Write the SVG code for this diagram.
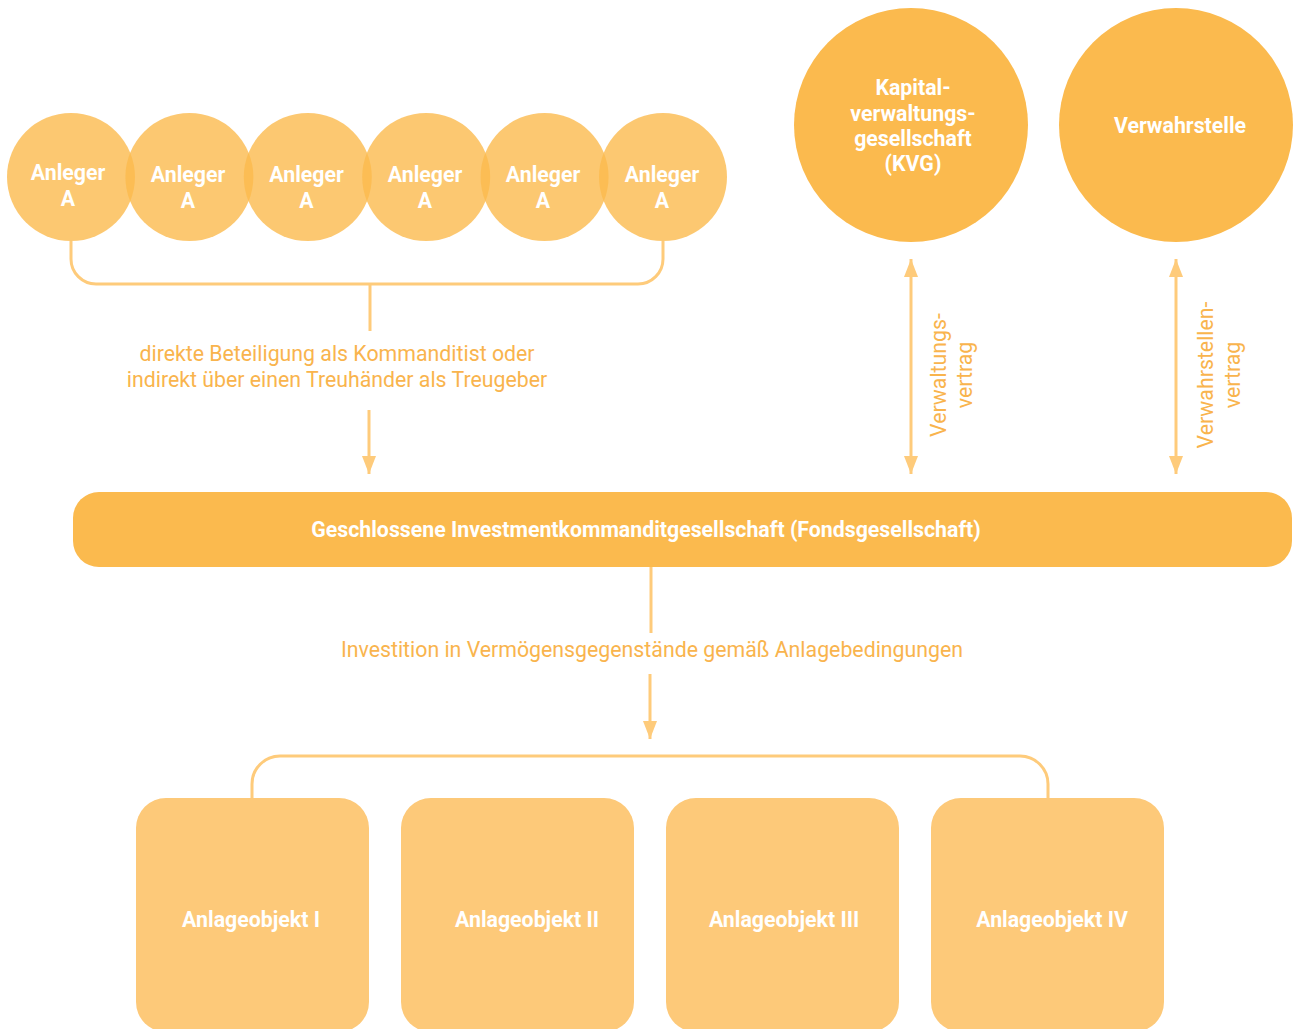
<svg xmlns="http://www.w3.org/2000/svg" width="1293" height="1029" viewBox="0 0 1293 1029">
<style>
.inv{fill:#FBBA4E;fill-opacity:0.8}
.big{fill:#FBBA4E}
.box{fill:#FDC979}
.wt{font-family:Roboto,"Liberation Sans",sans-serif;font-weight:bold;font-size:21.3px;fill:#FFFFFF;text-anchor:middle}
.lbl{font-family:Roboto,"Liberation Sans",sans-serif;font-size:21.3px;fill:#F9B44D;text-anchor:middle}
.ln{fill:none;stroke:#FECB7B;stroke-width:3}
</style>
<defs>
<marker id="ah" viewBox="0 0 18 14" refX="18" refY="7" markerWidth="18" markerHeight="14" markerUnits="userSpaceOnUse" orient="auto-start-reverse">
<path d="M0,0 L18,7 L0,14 z" fill="#FECB7B"/>
</marker>
</defs>
<rect width="1293" height="1029" fill="#FFFFFF"/>
<g id="connectors">
<path class="ln" d="M71,241 V259 A25,25 0 0 0 96,284 H638 A25,25 0 0 0 663,259 V241"/>
<path class="ln" d="M370,284 V331"/>
<path class="ln" d="M369,410 V474" marker-end="url(#ah)"/>
<path class="ln" d="M911,259 V474" marker-start="url(#ah)" marker-end="url(#ah)"/>
<path class="ln" d="M1176,259 V474" marker-start="url(#ah)" marker-end="url(#ah)"/>
<path class="ln" d="M651,567 V633"/>
<path class="ln" d="M650,674 V739" marker-end="url(#ah)"/>
<path class="ln" d="M252,798 V784 A28,28 0 0 1 280,756 H1020 A28,28 0 0 1 1048,784 V798"/>
</g>
<g id="labels">
<text class="lbl" x="337" y="361">direkte Beteiligung als Kommanditist oder</text>
<text class="lbl" x="337" y="387">indirekt über einen Treuhänder als Treugeber</text>
<text class="lbl" x="652" y="657">Investition in Vermögensgegenstände gemäß Anlagebedingungen</text>
<text class="lbl" transform="translate(946,375) rotate(-90)">Verwaltungs-</text>
<text class="lbl" transform="translate(972,375) rotate(-90)">vertrag</text>
<text class="lbl" transform="translate(1213,375) rotate(-90)">Verwahrstellen-</text>
<text class="lbl" transform="translate(1240,375) rotate(-90)">vertrag</text>
</g>
<g id="anleger1"><circle class="inv" cx="71" cy="177" r="64"/><text class="wt" x="68" y="180">Anleger</text><text class="wt" x="68" y="206">A</text></g>
<g id="anleger2"><circle class="inv" cx="189.4" cy="177" r="64"/><text class="wt" x="188" y="182">Anleger</text><text class="wt" x="188" y="208">A</text></g>
<g id="anleger3"><circle class="inv" cx="307.8" cy="177" r="64"/><text class="wt" x="306.5" y="182">Anleger</text><text class="wt" x="306.5" y="208">A</text></g>
<g id="anleger4"><circle class="inv" cx="426.2" cy="177" r="64"/><text class="wt" x="425" y="182">Anleger</text><text class="wt" x="425" y="208">A</text></g>
<g id="anleger5"><circle class="inv" cx="544.6" cy="177" r="64"/><text class="wt" x="543" y="182">Anleger</text><text class="wt" x="543" y="208">A</text></g>
<g id="anleger6"><circle class="inv" cx="663" cy="177" r="64"/><text class="wt" x="662" y="182">Anleger</text><text class="wt" x="662" y="208">A</text></g>
<g id="kvg"><circle class="big" cx="911" cy="125" r="117"/>
<text class="wt" x="913" y="95">Kapital-</text>
<text class="wt" x="913" y="121">verwaltungs-</text>
<text class="wt" x="913" y="146">gesellschaft</text>
<text class="wt" x="913" y="171">(KVG)</text></g>
<g id="verwahrstelle"><circle class="big" cx="1176" cy="125" r="117"/>
<text class="wt" x="1180" y="133">Verwahrstelle</text></g>
<g id="fonds"><rect class="big" x="73" y="492" width="1219" height="75" rx="26"/>
<text class="wt" x="646" y="537">Geschlossene Investmentkommanditgesellschaft (Fondsgesellschaft)</text></g>
<g id="obj1"><rect class="box" x="136" y="798" width="233" height="234" rx="30"/><text class="wt" x="251" y="927">Anlageobjekt I</text></g>
<g id="obj2"><rect class="box" x="401" y="798" width="233" height="234" rx="30"/><text class="wt" x="527" y="927">Anlageobjekt II</text></g>
<g id="obj3"><rect class="box" x="666" y="798" width="233" height="234" rx="30"/><text class="wt" x="784" y="927">Anlageobjekt III</text></g>
<g id="obj4"><rect class="box" x="931" y="798" width="233" height="234" rx="30"/><text class="wt" x="1052" y="927">Anlageobjekt IV</text></g>
</svg>
